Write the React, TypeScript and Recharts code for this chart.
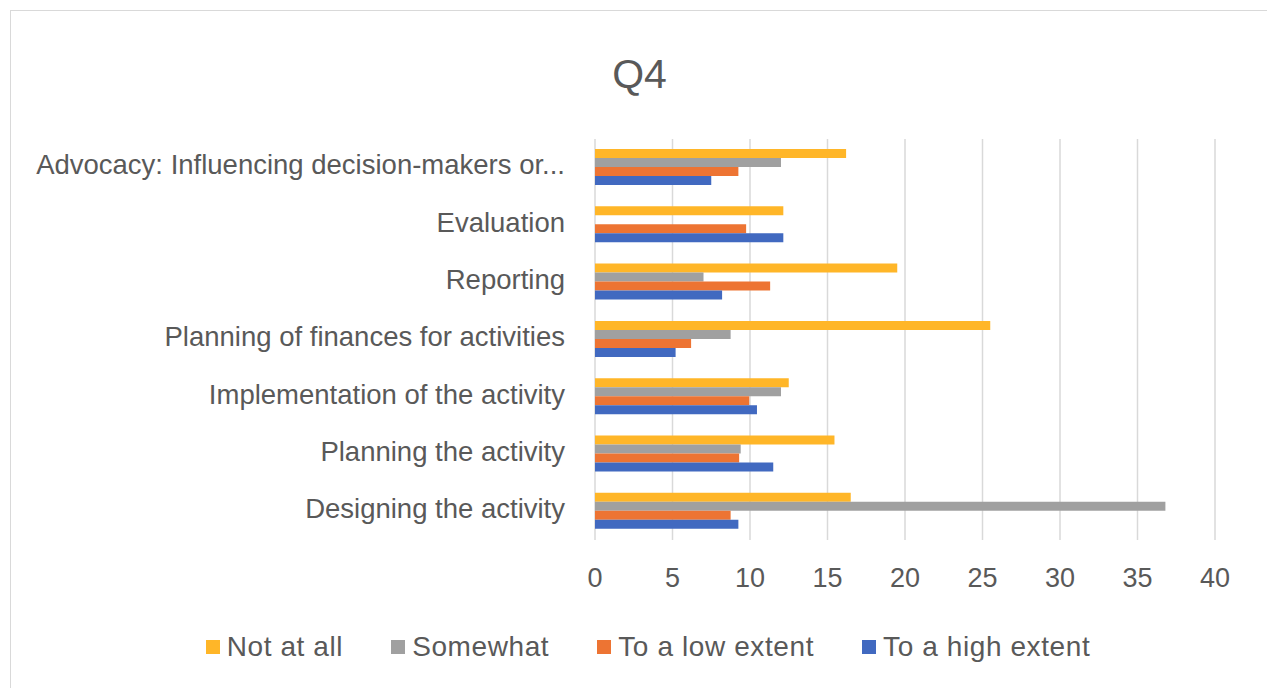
import { BarChart, Bar, XAxis, YAxis, CartesianGrid, Legend } from 'recharts'

const categories = [
  'Advocacy: Influencing decision-makers or...',
  'Evaluation',
  'Reporting',
  'Planning of finances for activities',
  'Implementation of the activity',
  'Planning the activity',
  'Designing the activity',
]
const notAtAll = [16.2, 12.15, 19.5, 25.5, 12.5, 15.45, 16.5]
const somewhat = [12, 0, 7, 8.75, 12, 9.4, 36.8]
const lowExtent = [9.25, 9.75, 11.3, 6.2, 9.95, 9.3, 8.75]
const highExtent = [7.5, 12.15, 8.2, 5.2, 10.45, 11.5, 9.25]
const xTicks = [0, 5, 10, 15, 20, 25, 30, 35, 40]

const series = [
  { key: 'notAtAll', name: 'Not at all', color: '#FFB628' },
  { key: 'somewhat', name: 'Somewhat', color: '#A0A0A0' },
  { key: 'lowExtent', name: 'To a low extent', color: '#ED7433' },
  { key: 'highExtent', name: 'To a high extent', color: '#4169C0' },
]

const data = categories.map((name, i) => ({
  name,
  notAtAll: notAtAll[i],
  somewhat: somewhat[i],
  lowExtent: lowExtent[i],
  highExtent: highExtent[i],
}))

const font = '"Liberation Sans", Arial, sans-serif'
const textColor = '#595959'

function LegendContent() {
  return (
    <div
      style={{
        display: 'flex',
        justifyContent: 'center',
        alignItems: 'center',
        height: 40,
        gap: 48,
        fontFamily: font,
        fontSize: 28,
        letterSpacing: 0.6,
        color: textColor,
        paddingLeft: 70,
      }}
    >
      {series.map((s) => (
        <div key={s.key} style={{ display: 'flex', alignItems: 'center' }}>
          <span style={{ width: 14, height: 14, background: s.color, marginRight: 7, display: 'inline-block' }} />
          <span>{s.name}</span>
        </div>
      ))}
    </div>
  )
}

export default function App() {
  return (
    <div
      style={{
        position: 'absolute',
        left: 10,
        top: 10,
        width: 1257,
        height: 690,
        border: '1px solid #d9d9d9',
        background: '#fff',
      }}
    >
      <div
        style={{
          position: 'absolute',
          top: 40,
          left: 0,
          width: 1257,
          textAlign: 'center',
          fontFamily: font,
          fontSize: 41,
          color: textColor,
        }}
      >
        Q4
      </div>
      <BarChart
        width={1255}
        height={676}
        data={data}
        layout="vertical"
        margin={{ top: 128, right: 51, bottom: 20, left: 0 }}
        barCategoryGap="17.5%"
        barGap={0}
      >
        <CartesianGrid horizontal={false} stroke="#d9d9d9" strokeWidth={1.5} />
        <XAxis
          type="number"
          domain={[0, 40]}
          ticks={xTicks}
          axisLine={false}
          tickLine={false}
          tickMargin={22}
          height={87}
          tick={{ fill: textColor, fontSize: 27, fontFamily: font }}
        />
        <YAxis
          type="category"
          dataKey="name"
          width={584}
          axisLine={false}
          tickLine={false}
          tickSize={0}
          tickMargin={30}
          interval={0}
          tick={{ fill: textColor, fontSize: 27.5, fontFamily: font, dy: -3 }}
        />
        <Legend verticalAlign="bottom" content={() => <LegendContent />} />
        {series.map((s) => (
          <Bar key={s.key} dataKey={s.key} name={s.name} fill={s.color} isAnimationActive={false} />
        ))}
      </BarChart>
    </div>
  )
}
